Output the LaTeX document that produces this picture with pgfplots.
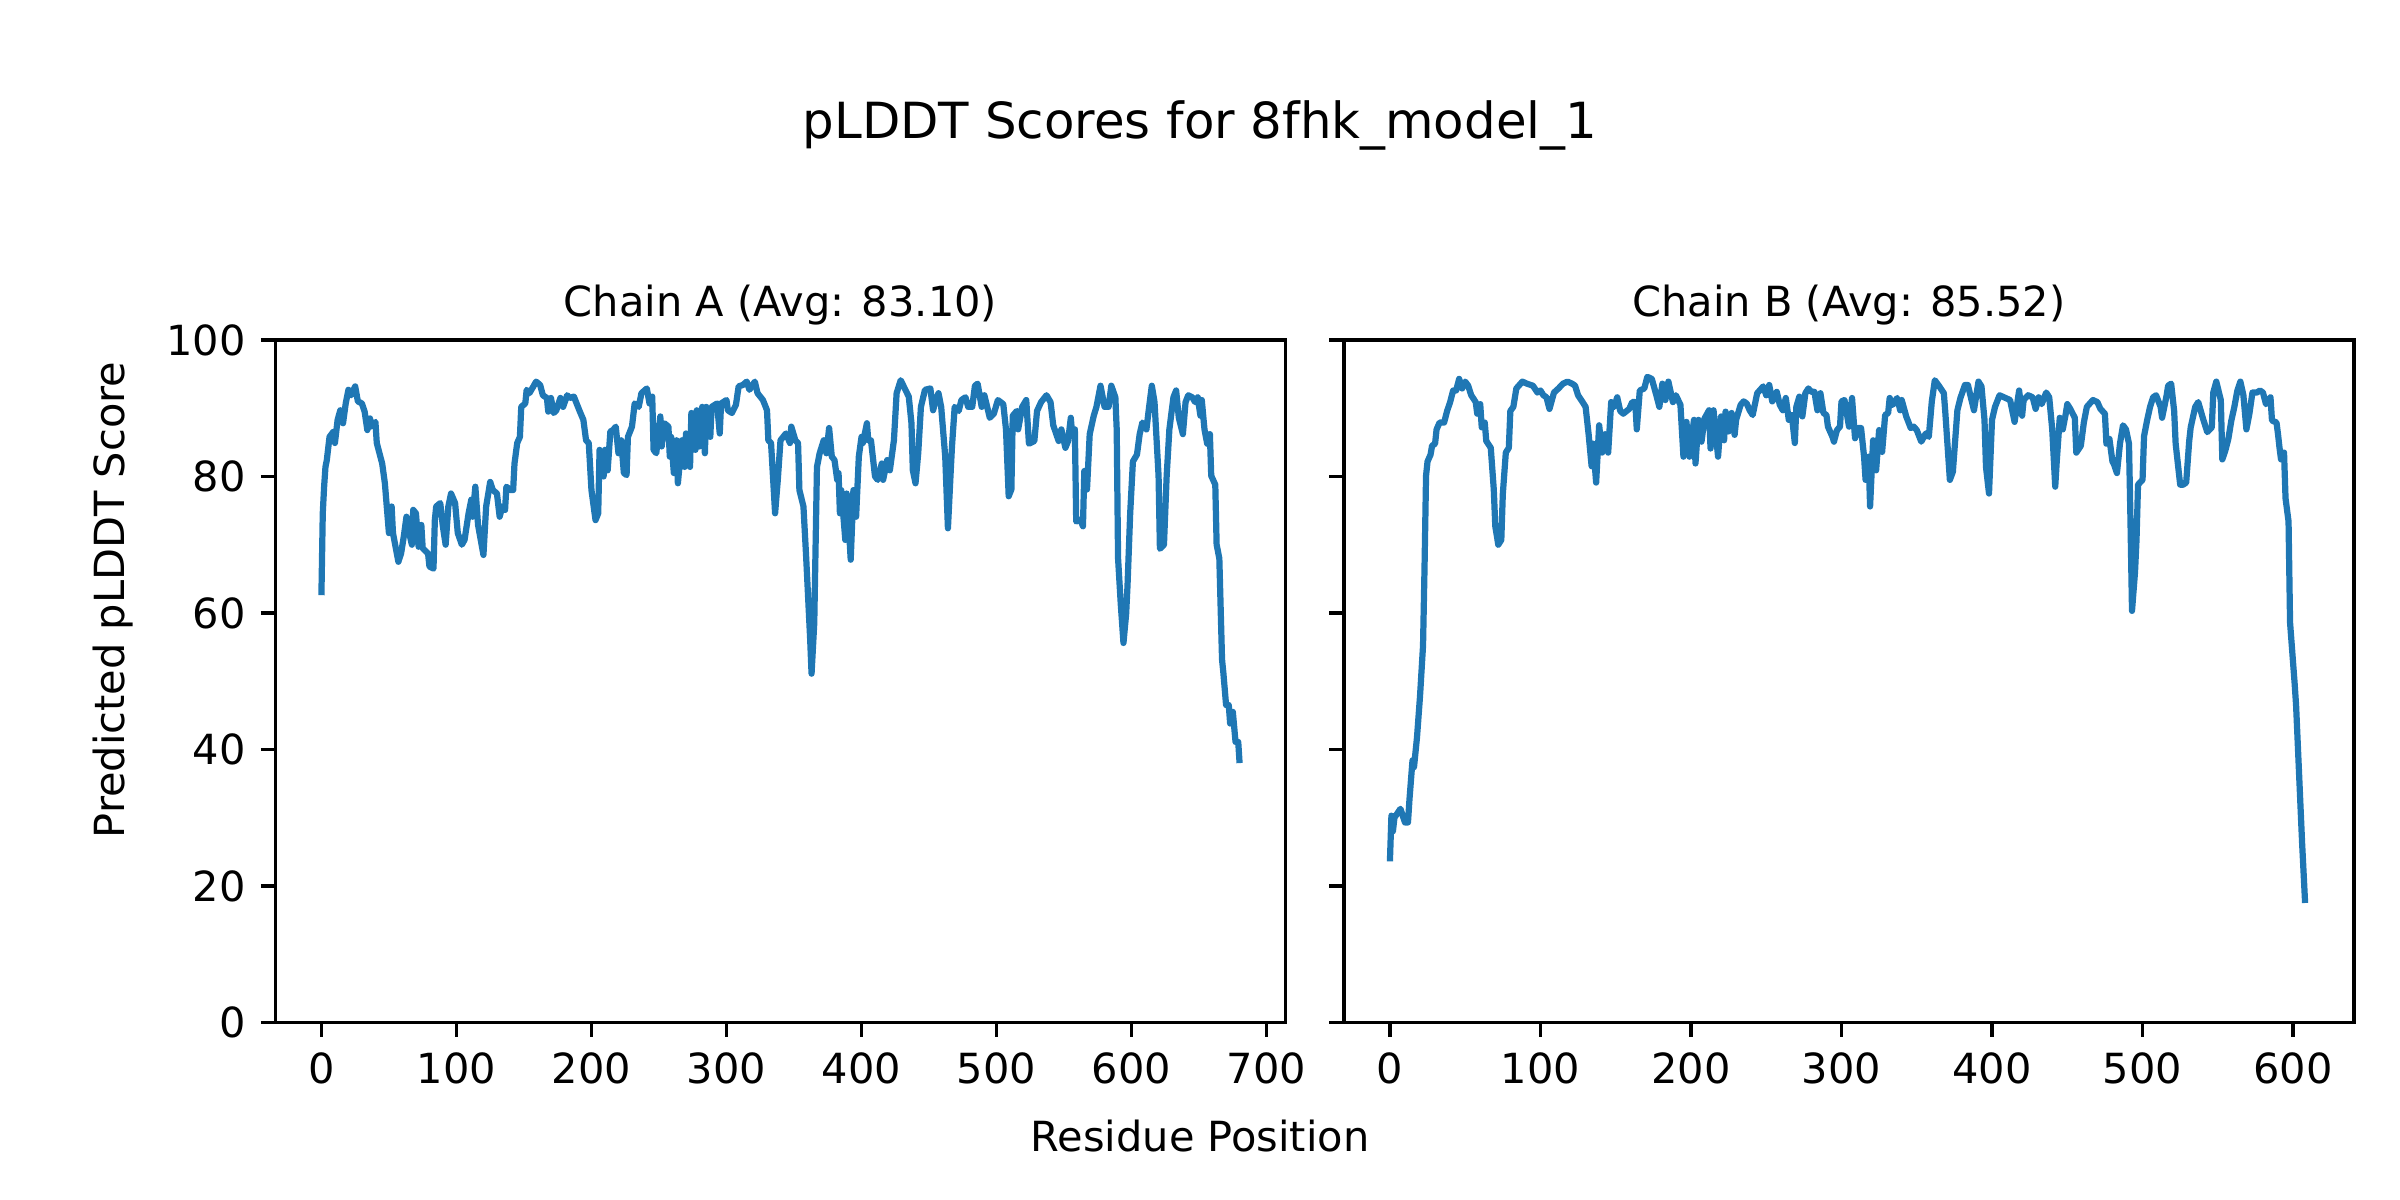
\documentclass[border=0pt]{standalone}
\usepackage{fontspec}
\setmainfont{DejaVu Sans}
\usepackage{pgfplots}
\pgfplotsset{compat=1.18}
\definecolor{mplblue}{HTML}{1F77B4}

% chain A: residue, pLDDT
\pgfplotstableread{
x y
0 62.6
1 74.6
2 78.5
3 81.4
4 82.4
6 85.8
9 86.6
10 84.9
12 88.3
14 89.7
16 87.8
18 90.7
20 92.7
22 91.9
25 93.2
27 91.0
30 90.7
32 89.5
34 86.8
36 88.5
37 87.3
40 88.0
41 84.9
45 81.9
47 79.0
50 71.7
52 75.6
53 71.7
57 67.5
59 68.7
61 71.2
63 74.1
64 72.6
67 70.0
68 75.1
70 74.6
72 69.7
74 72.9
75 69.5
79 68.7
80 66.8
83 66.5
84 73.6
85 75.6
88 76.1
90 72.6
92 70.0
94 75.6
96 77.5
99 76.1
101 71.7
104 70.0
106 70.7
109 74.6
111 76.6
112 74.1
114 78.5
116 72.9
120 68.5
122 75.6
125 79.2
127 78.0
130 77.5
132 74.1
134 75.6
136 75.1
137 78.5
140 78.0
142 78.0
143 81.9
145 84.9
147 85.8
148 90.2
151 90.7
152 92.7
154 92.2
157 93.2
159 93.9
162 93.4
164 91.9
167 91.5
168 89.5
170 91.5
172 89.3
174 89.7
177 91.5
179 90.2
182 91.9
184 91.5
187 91.7
189 90.7
191 89.7
194 88.3
196 85.3
198 84.9
200 78.0
203 73.6
205 74.6
206 83.9
209 80.0
210 83.9
212 80.9
214 86.6
216 86.8
218 87.3
220 83.4
222 85.3
224 80.5
226 80.2
227 85.8
230 87.3
232 90.7
235 90.2
237 92.2
241 92.9
243 90.7
245 91.7
246 83.9
248 83.4
251 88.8
252 84.4
254 87.8
257 87.3
258 82.9
259 85.8
261 80.5
263 85.3
264 79.0
267 85.3
269 81.4
270 86.3
273 81.4
274 89.3
277 83.9
278 89.7
280 84.4
282 90.2
284 83.4
285 90.2
288 85.8
289 90.2
293 90.7
295 86.3
296 90.7
300 91.2
301 89.7
304 89.3
307 90.5
309 93.2
312 93.4
315 93.9
317 92.7
321 93.9
323 92.2
327 91.2
330 89.7
331 85.3
333 84.9
336 74.6
338 79.5
340 85.3
342 85.8
344 86.3
347 84.9
348 87.3
351 85.3
353 84.9
354 78.0
357 75.6
359 68.2
362 56.0
363 51.1
365 58.5
367 81.4
369 83.4
372 85.3
374 83.4
376 87.1
378 82.9
380 82.4
382 79.5
383 80.5
384 74.6
385 78.0
388 70.7
389 77.5
390 74.6
392 67.8
394 78.0
396 74.1
398 82.9
400 85.8
401 84.9
404 87.8
405 85.3
407 85.3
410 80.0
412 79.5
415 81.9
416 79.5
419 82.4
421 80.9
424 85.3
426 92.2
429 94.1
432 92.9
435 91.7
437 87.8
438 80.9
440 79.0
442 83.4
444 90.2
447 92.7
451 92.9
453 89.7
455 91.2
457 92.2
459 90.2
462 82.9
464 72.4
466 80.5
467 84.4
469 90.2
472 89.6
474 91.2
477 91.6
479 90.2
482 90.2
484 93.3
486 93.6
489 90.2
491 91.9
495 88.6
498 89.2
501 91.2
505 90.6
507 86.9
509 77.1
511 78.1
512 88.9
515 89.6
516 86.9
519 90.2
522 91.2
524 84.8
528 85.2
530 89.6
533 90.9
537 91.9
540 90.9
542 87.5
546 85.2
548 86.9
551 84.2
553 85.2
555 88.6
556 86.2
558 86.9
559 73.4
562 73.7
564 72.7
565 80.8
567 78.1
569 86.2
572 88.9
574 90.2
577 93.3
580 90.2
583 90.2
585 93.3
588 91.6
589 86.9
590 68.0
592 61.3
594 55.6
596 59.9
597 64.0
599 74.7
601 82.2
604 83.2
606 86.2
608 87.9
611 86.9
613 90.2
615 93.3
617 90.9
620 80.1
621 69.4
624 70.0
626 80.1
628 86.9
631 91.6
633 92.6
635 88.6
638 86.2
640 90.9
642 91.9
645 91.6
647 90.9
649 91.6
651 88.9
652 91.2
654 86.9
656 84.8
658 86.2
659 80.1
662 78.8
663 70.0
665 68.0
667 53.2
668 51.2
670 46.5
672 46.5
673 43.8
675 45.5
677 41.1
679 41.1
680 38.0
}\chainA

% chain B
\pgfplotstableread{
x y
0 23.6
1 30.3
2 28.0
3 30.0
7 31.3
10 29.3
12 29.3
13 32.7
15 38.4
16 37.4
18 41.8
20 47.8
22 55.2
23 66.7
24 80.1
25 82.2
27 83.2
28 84.5
30 84.8
31 86.9
33 87.9
36 87.9
38 89.6
40 90.9
42 92.6
44 92.6
46 94.3
48 92.9
50 93.9
52 93.3
54 91.9
57 90.9
58 89.2
60 90.6
61 87.2
63 87.9
64 85.2
67 84.2
69 78.1
70 72.7
72 70.0
74 70.7
75 77.4
77 83.5
79 84.2
80 89.6
82 90.2
84 92.9
88 93.9
91 93.6
95 93.3
98 92.3
100 92.6
102 91.9
104 91.6
106 89.9
109 92.3
112 92.9
115 93.6
118 93.9
121 93.6
123 93.3
125 91.9
128 90.9
130 90.2
132 86.2
134 81.5
135 84.8
137 79.1
139 87.5
141 83.5
143 86.2
145 83.5
147 90.9
149 90.2
151 91.6
153 89.6
155 89.2
159 89.9
161 90.9
163 90.9
164 86.9
166 92.6
169 92.9
171 94.6
174 94.3
177 91.9
179 90.2
181 93.6
183 91.2
185 93.9
188 90.9
190 91.9
193 90.5
195 82.9
197 88.0
199 82.9
202 88.3
203 81.9
205 88.3
207 85.1
209 88.5
212 89.7
213 84.1
215 89.7
218 82.9
220 88.8
222 85.3
223 89.5
225 86.6
227 89.3
229 86.1
230 88.3
233 90.5
235 91.0
237 90.7
239 89.7
241 89.0
244 92.2
246 92.7
248 93.2
250 91.9
252 93.4
254 91.0
257 92.4
259 90.5
261 89.7
263 91.5
265 88.3
267 89.0
269 84.9
270 90.2
272 91.7
274 88.8
276 92.2
278 92.9
280 92.4
282 92.4
284 89.7
286 92.2
288 89.3
290 89.0
291 87.3
294 85.8
295 85.1
297 86.8
299 87.3
300 91.0
302 91.2
305 87.3
307 91.5
309 85.6
311 87.1
313 87.1
315 82.9
316 79.5
318 82.9
319 75.6
321 85.3
323 80.9
325 86.8
327 83.6
329 89.0
331 89.3
332 91.5
334 90.5
337 91.5
339 89.7
340 91.2
343 88.8
346 87.1
348 87.3
350 86.8
353 85.1
356 86.3
358 85.8
360 91.0
362 94.1
365 93.2
368 92.2
369 89.3
372 79.5
374 80.7
377 89.7
379 91.5
382 93.4
384 93.4
388 89.7
391 93.9
393 93.2
395 88.3
396 81.4
398 77.5
400 88.3
402 90.2
405 91.9
409 91.5
412 91.2
415 88.0
418 92.6
420 88.9
421 91.2
424 91.9
427 91.6
429 89.9
431 91.6
433 90.6
436 92.3
438 91.6
440 86.9
442 78.5
443 82.2
445 88.6
447 86.9
449 89.2
450 90.6
452 89.9
455 88.6
456 83.5
459 84.5
461 87.9
463 90.2
467 91.2
470 90.9
472 89.9
475 89.2
476 84.8
478 85.5
480 82.2
481 81.8
483 80.5
485 84.8
487 87.5
489 86.9
491 84.8
492 73.4
493 60.3
495 66.0
496 70.7
497 78.8
500 79.5
501 85.9
503 88.2
505 90.2
507 91.6
509 91.9
512 90.2
513 88.6
516 91.9
517 93.3
519 93.6
521 89.6
522 84.8
523 82.8
525 78.8
527 78.8
529 79.1
531 85.2
532 87.2
535 90.2
537 90.9
540 88.6
543 86.5
546 87.2
547 92.3
549 93.9
552 91.2
553 82.5
555 83.8
557 85.5
559 88.2
561 90.2
563 92.6
565 93.9
567 91.9
569 86.9
571 89.2
573 92.3
576 92.3
578 92.6
580 92.3
582 90.6
585 91.6
586 88.2
589 87.9
590 86.2
591 84.2
592 82.5
594 83.5
595 76.8
597 73.4
598 58.6
601 49.8
602 46.5
604 36.4
606 26.3
608 17.5
}\chainB

\pgfplotsset{
  plddt/.style={
    scale only axis,
    width=8.5513cm, height=5.7777cm,
    anchor=south west,
    ymin=0, ymax=100, ytick={0,20,...,100},
    axis line style={line width=0.8pt},
    every tick/.style={black, line width=0.8pt},
    tick align=outside, major tick length=3.5pt,
    xtick pos=bottom, ytick pos=left,
    tick label style={font=\fontsize{10}{12}\selectfont,
      /pgf/number format/assume math mode=true, inner sep=0pt},
    xticklabel style={yshift=-3.5pt},
    yticklabel style={xshift=-3.5pt},
  },
  pline/.style={mplblue, line width=1.5pt, line join=round, mark=none},
}

\begin{document}
\begin{tikzpicture}
\useasboundingbox (0,0) rectangle (20.32cm,10.16cm);

\begin{axis}[plddt, at={(2.3326cm,1.5037cm)},
  xmin=-34, xmax=714, xtick={0,100,...,700}]
\addplot[pline] table[x=x, y=y] {\chainA};
\end{axis}

\begin{axis}[plddt, at={(11.3792cm,1.5037cm)},
  xmin=-30.5, xmax=640.5, xtick={0,100,...,600}, yticklabels={}]
\addplot[pline] table[x=x, y=y] {\chainB};
\end{axis}

% titles and labels (figure-level labels are centred on the figure)
\node[anchor=base, font=\fontsize{12}{14}\selectfont] at (10.16cm,8.99cm) {pLDDT Scores for 8fhk\_model\_1};
\node[anchor=base, font=\fontsize{10}{12}\selectfont] at (6.6083cm,7.4787cm) {Chain A (Avg: 83.10)};
\node[anchor=base, font=\fontsize{10}{12}\selectfont] at (15.6549cm,7.4787cm) {Chain B (Avg: 85.52)};
\node[anchor=base, font=\fontsize{10}{12}\selectfont] at (10.16cm,0.409cm) {Residue Position};
\node[anchor=base, rotate=90, font=\fontsize{10}{12}\selectfont] at (1.05cm,5.08cm) {Predicted pLDDT Score};
\end{tikzpicture}
\end{document}
